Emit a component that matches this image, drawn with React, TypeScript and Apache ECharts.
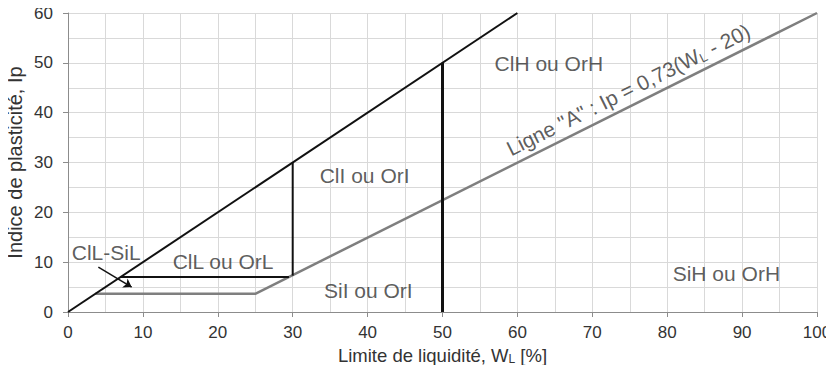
import React, { useEffect, useRef } from "react";
import * as echarts from "echarts";

const uLine: number[][] = [[0, 0], [60, 60]];
const aLine: number[][] = [[3.65, 3.65], [25, 3.65], [100, 60]];
const clLine: number[][] = [[7, 7], [29.5, 7]];
const v30Line: number[][] = [[30, 7.3], [30, 30]];
const v50Line: number[][] = [[50, 0], [50, 50]];
const arrowCoords: number[][] = [[4.05, 9.0], [8.5, 5.0]];

const zoneLabels: { name: string; value: number[] }[] = [
  { name: "ClL-SiL", value: [5.1, 11.9] },
  { name: "ClL ou OrL", value: [20.7, 10.2] },
  { name: "ClI ou OrI", value: [39.6, 27.3] },
  { name: "SiI ou OrI", value: [40.1, 4.3] },
  { name: "ClH ou OrH", value: [64.2, 49.9] },
  { name: "SiH ou OrH", value: [87.9, 7.8] },
];
const aLabelPos: number[] = [74.8, 44.6];

const FONT = "Liberation Sans, Arial, sans-serif";
const TXT = "#333333";

export default function App() {
  const ref = useRef<HTMLDivElement>(null);
  useEffect(() => {
    if (!ref.current) return;
    const chart = echarts.init(ref.current, undefined, { renderer: "svg" });
    const lineStyle = (color: string, width: number) => ({
      type: "line",
      symbol: "none",
      silent: true,
      lineStyle: { color, width },
    });
    chart.setOption({
      animation: false,
      textStyle: { fontFamily: FONT },
      grid: { left: 68, right: 17, top: 13, bottom: 61, containLabel: false, outerBoundsMode: "none" },
      xAxis: {
        type: "value",
        min: 0,
        max: 100,
        interval: 10,
        name: "{a|Limite de liquidité, W}{s|L}{a| [%]}",
        nameLocation: "middle",
        nameGap: 33,
        nameMoveOverlap: false,
        nameTextStyle: {
          rich: {
            a: { fontSize: 18.5, color: TXT, fontFamily: FONT },
            s: { fontSize: 12, color: TXT, fontFamily: FONT, padding: [8, 0, 0, 0] },
          },
        },
        axisLine: { lineStyle: { color: "#8c8c8c", width: 1 } },
        axisTick: { show: true, length: 5, lineStyle: { color: "#8c8c8c" } },
        axisLabel: { fontSize: 17, color: TXT, margin: 12 },
        splitLine: { show: true, lineStyle: { color: "#d9d9d9", width: 1 } },
        minorTick: { show: false, splitNumber: 2 },
        minorSplitLine: { show: true, lineStyle: { color: "#d9d9d9", width: 1 } },
      },
      yAxis: {
        type: "value",
        min: 0,
        max: 60,
        interval: 10,
        name: "Indice de plasticité, Ip",
        nameLocation: "middle",
        nameGap: 43,
        nameMoveOverlap: false,
        nameTextStyle: { fontSize: 20, color: TXT },
        axisLine: { show: true, lineStyle: { color: "#8c8c8c", width: 1 } },
        axisTick: { show: true, length: 5, lineStyle: { color: "#8c8c8c" } },
        axisLabel: { fontSize: 17, color: TXT, margin: 15 },
        splitLine: { show: true, lineStyle: { color: "#d9d9d9", width: 1 } },
        minorTick: { show: false, splitNumber: 2 },
        minorSplitLine: { show: true, lineStyle: { color: "#d9d9d9", width: 1 } },
      },
      series: [
        { ...lineStyle("#7f7f7f", 2.5), data: aLine },
        { ...lineStyle("#111111", 2), data: uLine },
        { ...lineStyle("#111111", 2), data: clLine },
        { ...lineStyle("#111111", 2), data: v30Line },
        { ...lineStyle("#111111", 3), data: v50Line },
        {
          type: "lines",
          coordinateSystem: "cartesian2d",
          silent: true,
          symbol: ["none", "arrow"],
          symbolSize: 8,
          lineStyle: { color: "#111111", width: 1.5, opacity: 1 },
          data: [{ coords: arrowCoords }],
        },
        {
          type: "scatter",
          symbolSize: 0,
          silent: true,
          data: zoneLabels,
          label: {
            show: true,
            position: "inside",
            formatter: "{b}",
            fontSize: 21,
            color: TXT,
            fontFamily: FONT,
          },
        },
        {
          type: "scatter",
          symbolSize: 0,
          silent: true,
          data: [{ name: "A", value: aLabelPos }],
          label: {
            show: true,
            position: "inside",
            rotate: 26.5,
            formatter: '{a|Ligne "A" : Ip = 0,73(W}{s|L}{a| - 20)}',
            rich: {
              a: { fontSize: 21, color: TXT, fontFamily: FONT },
              s: { fontSize: 13, color: TXT, fontFamily: FONT, padding: [9, 0, 0, 0] },
            },
          },
        },
      ],
    });
    return () => chart.dispose();
  }, []);
  return <div ref={ref} style={{ width: 834, height: 373, margin: -8 }} />;
}
